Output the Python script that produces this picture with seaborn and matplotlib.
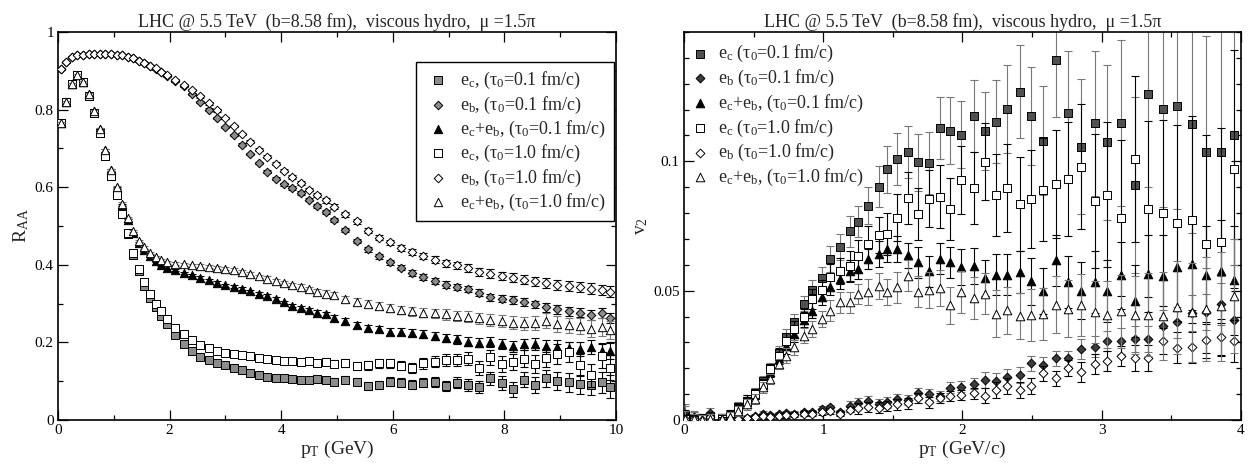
import matplotlib
matplotlib.use("Agg")
import matplotlib.pyplot as plt
from matplotlib.ticker import MultipleLocator, FixedLocator, FuncFormatter
import seaborn as sns
import pandas as pd

# ---------------- left panel: R_AA vs pT ----------------
pt_L = [0.05,0.15,0.25,0.35,0.45,0.55,0.65,0.75,0.85,0.95,1.05,1.15,1.25,1.35,1.45,1.55,1.65,1.75,1.85,1.95,
        2.1,2.25,2.4,2.55,2.7,2.85,3.0,3.15,3.3,3.45,3.6,3.75,3.9,4.05,4.2,4.35,4.5,4.65,4.8,4.95,
        5.15,5.35,5.55,5.75,5.95,6.15,6.35,6.55,6.75,6.95,7.15,7.35,7.55,7.75,7.95,8.15,8.35,8.55,8.75,8.95,
        9.15,9.35,9.55,9.75,9.9]

raa_ec_01 = [0.765,0.82,0.865,0.89,0.87,0.835,0.79,0.74,0.68,0.63,0.58,0.53,0.48,0.425,0.383,0.345,0.315,0.29,0.268,0.247,
             0.218,0.195,0.177,0.163,0.154,0.147,0.141,0.134,0.128,0.122,0.117,0.112,0.108,0.107,0.105,0.104,0.104,0.105,0.103,0.099,
             0.104,0.098,0.088,0.091,0.099,0.096,0.091,0.096,0.099,0.088,0.096,0.091,0.085,0.107,0.096,0.079,0.104,0.09,0.108,0.1,
             0.097,0.092,0.091,0.097,0.086]
raa_eb_01 = [0.905,0.922,0.935,0.94,0.942,0.944,0.943,0.944,0.943,0.944,0.942,0.94,0.936,0.932,0.926,0.92,0.912,0.905,0.896,0.887,
             0.873,0.86,0.84,0.82,0.8,0.778,0.756,0.734,0.71,0.686,0.662,0.64,0.622,0.607,0.598,0.585,0.568,0.552,0.535,0.515,
             0.49,0.462,0.44,0.422,0.406,0.393,0.379,0.369,0.358,0.349,0.343,0.338,0.328,0.317,0.312,0.309,0.304,0.298,0.29,0.285,
             0.28,0.277,0.271,0.275,0.262]
raa_ecb_01 = [0.765,0.82,0.865,0.89,0.872,0.84,0.797,0.75,0.695,0.645,0.598,0.555,0.515,0.482,0.455,0.437,0.422,0.41,0.4,0.393,
              0.386,0.379,0.373,0.367,0.36,0.353,0.347,0.343,0.338,0.332,0.326,0.319,0.311,0.303,0.295,0.289,0.283,0.277,0.272,0.263,
              0.255,0.245,0.238,0.234,0.228,0.228,0.225,0.221,0.217,0.211,0.208,0.202,0.199,0.2,0.196,0.19,0.195,0.196,0.19,0.188,
              0.185,0.182,0.188,0.178,0.177]
raa_ec_10 = [0.765,0.82,0.865,0.89,0.87,0.835,0.79,0.74,0.68,0.63,0.58,0.53,0.482,0.43,0.39,0.355,0.325,0.30,0.28,0.26,
             0.238,0.222,0.207,0.194,0.185,0.178,0.173,0.17,0.167,0.164,0.161,0.158,0.155,0.153,0.151,0.15,0.152,0.147,0.15,0.145,
             0.146,0.14,0.141,0.146,0.146,0.14,0.133,0.146,0.15,0.155,0.154,0.158,0.133,0.162,0.145,0.15,0.158,0.145,0.16,0.17,
             0.175,0.142,0.115,0.165,0.135]
raa_eb_10 = [0.905,0.922,0.935,0.94,0.942,0.944,0.943,0.944,0.943,0.944,0.942,0.94,0.936,0.932,0.926,0.92,0.913,0.906,0.898,0.889,
             0.876,0.864,0.85,0.834,0.816,0.798,0.778,0.758,0.738,0.717,0.697,0.678,0.66,0.643,0.627,0.61,0.594,0.58,0.566,0.55,
             0.53,0.512,0.488,0.47,0.458,0.443,0.433,0.423,0.413,0.404,0.399,0.391,0.381,0.377,0.371,0.367,0.362,0.357,0.353,0.348,
             0.345,0.342,0.338,0.335,0.331]
raa_ecb_10 = [0.765,0.82,0.865,0.89,0.872,0.84,0.797,0.75,0.695,0.645,0.6,0.558,0.52,0.488,0.462,0.445,0.43,0.42,0.412,0.406,
              0.403,0.401,0.399,0.397,0.395,0.393,0.39,0.386,0.381,0.376,0.37,0.364,0.358,0.352,0.348,0.344,0.337,0.331,0.326,0.322,
              0.311,0.305,0.3,0.295,0.288,0.284,0.28,0.277,0.275,0.272,0.269,0.266,0.262,0.258,0.255,0.251,0.249,0.251,0.256,0.248,
              0.244,0.243,0.235,0.24,0.232]

err_ec_01 = [0.003,0.003,0.003,0.003,0.003,0.003,0.003,0.003,0.003,0.003,0.003,0.003,0.003,0.003,0.003,0.003,0.003,0.003,0.003,0.003,
             0.003,0.003,0.004,0.004,0.004,0.004,0.004,0.005,0.005,0.005,0.005,0.006,0.006,0.006,0.007,0.007,0.007,0.008,0.008,0.008,
             0.009,0.009,0.01,0.01,0.011,0.011,0.012,0.012,0.013,0.013,0.014,0.015,0.016,0.017,0.018,0.019,0.02,0.021,0.022,0.023,
             0.024,0.025,0.027,0.028,0.03]
err_eb_01 = [0.002,0.002,0.002,0.002,0.002,0.002,0.002,0.002,0.002,0.002,0.002,0.002,0.002,0.002,0.002,0.002,0.002,0.002,0.002,0.002,
             0.002,0.002,0.002,0.003,0.003,0.003,0.003,0.003,0.003,0.003,0.003,0.004,0.004,0.004,0.004,0.004,0.004,0.005,0.005,0.005,
             0.005,0.005,0.006,0.006,0.006,0.006,0.007,0.007,0.007,0.008,0.008,0.008,0.009,0.009,0.009,0.01,0.01,0.01,0.011,0.011,
             0.011,0.012,0.012,0.013,0.013]
err_ecb_01 = [0.003,0.003,0.003,0.003,0.003,0.003,0.003,0.003,0.003,0.003,0.003,0.003,0.003,0.003,0.003,0.003,0.003,0.003,0.003,0.003,
              0.003,0.003,0.003,0.003,0.004,0.004,0.004,0.004,0.004,0.004,0.005,0.005,0.005,0.005,0.005,0.006,0.006,0.006,0.006,0.007,
              0.007,0.007,0.008,0.008,0.008,0.009,0.009,0.01,0.01,0.011,0.011,0.012,0.012,0.013,0.013,0.014,0.015,0.015,0.016,0.017,
              0.017,0.018,0.019,0.02,0.021]
err_ec_10 = [0.003,0.003,0.003,0.003,0.003,0.003,0.003,0.003,0.003,0.003,0.003,0.003,0.003,0.003,0.003,0.003,0.003,0.003,0.003,0.003,
             0.003,0.004,0.004,0.004,0.004,0.005,0.005,0.005,0.005,0.006,0.006,0.006,0.007,0.007,0.007,0.008,0.008,0.008,0.009,0.009,
             0.01,0.01,0.011,0.011,0.012,0.012,0.013,0.014,0.014,0.015,0.016,0.017,0.018,0.019,0.02,0.021,0.022,0.023,0.024,0.025,
             0.026,0.028,0.03,0.031,0.033]
err_eb_10 = [0.002,0.002,0.002,0.002,0.002,0.002,0.002,0.002,0.002,0.002,0.002,0.002,0.002,0.002,0.002,0.002,0.002,0.002,0.002,0.002,
             0.002,0.002,0.003,0.003,0.003,0.003,0.003,0.003,0.003,0.004,0.004,0.004,0.004,0.004,0.005,0.005,0.005,0.005,0.006,0.006,
             0.006,0.006,0.007,0.007,0.007,0.008,0.008,0.008,0.009,0.009,0.009,0.01,0.01,0.011,0.011,0.011,0.012,0.012,0.012,0.013,
             0.013,0.013,0.014,0.014,0.015]
err_ecb_10 = [0.003,0.003,0.003,0.003,0.003,0.003,0.003,0.003,0.003,0.003,0.003,0.003,0.003,0.003,0.003,0.003,0.003,0.003,0.003,0.003,
              0.003,0.003,0.004,0.004,0.004,0.004,0.004,0.005,0.005,0.005,0.005,0.006,0.006,0.006,0.006,0.007,0.007,0.007,0.008,0.008,
              0.008,0.009,0.009,0.01,0.01,0.011,0.011,0.012,0.012,0.013,0.013,0.014,0.015,0.015,0.016,0.017,0.017,0.018,0.019,0.02,
              0.02,0.021,0.022,0.023,0.024]

# ---------------- right panel: v2 vs pT ----------------
pt_R = [0.01,0.07,0.13,0.19,0.27,0.33,0.39,0.45,0.51,0.57,0.62,0.68,0.73,0.79,0.86,0.92,0.99,1.05,1.12,1.19,
        1.25,1.32,1.40,1.46,1.53,1.61,1.68,1.76,1.84,1.91,1.99,2.08,2.16,2.24,2.32,2.41,2.49,2.58,2.67,2.76,
        2.85,2.95,3.04,3.14,3.24,3.33,3.44,3.54,3.65,3.75,3.86,3.95]

v2_ec_01 = [0.002,0.0005,0.0003,0.0002,0.0004,0.0017,0.0049,0.0075,0.0103,0.0152,0.0201,0.0258,0.032,0.038,0.045,0.0503,0.055,0.0622,0.067,0.073,
            0.0767,0.0829,0.0902,0.0969,0.1008,0.1037,0.0996,0.0994,0.1129,0.1118,0.1103,0.1176,0.1118,0.1153,0.1204,0.1269,0.1174,0.108,0.1391,0.1185,
            0.1057,0.1147,0.1073,0.1149,0.0909,0.126,0.1204,0.1214,0.1143,0.1036,0.1036,0.1101]
v2_eb_01 = [0.0023,0.001,0.0005,0.0026,0.0,0.0003,0.0006,0.0008,0.0015,0.0023,0.0018,0.0022,0.0026,0.0024,0.003,0.003,0.0043,0.0049,0.003,0.0055,
            0.0064,0.0072,0.0062,0.0068,0.0081,0.0077,0.0103,0.0099,0.0094,0.0125,0.0129,0.0141,0.0154,0.015,0.0167,0.0174,0.0219,0.0212,0.0238,0.0238,
            0.0274,0.0283,0.0306,0.0306,0.0312,0.0312,0.0365,0.0378,0.0415,0.0419,0.0448,0.0387]
v2_ecb_01 = [0.001,0.0005,0.0,0.0003,0.0004,0.0013,0.0045,0.0078,0.01,0.0139,0.0185,0.0235,0.0285,0.0332,0.0388,0.0423,0.0474,0.0515,0.0545,0.0577,
             0.0585,0.0622,0.0641,0.066,0.066,0.0636,0.061,0.0575,0.0623,0.061,0.0591,0.0595,0.055,0.0562,0.0562,0.0572,0.0536,0.0499,0.0617,0.0533,
             0.0499,0.0533,0.0497,0.0559,0.0459,0.0566,0.0555,0.059,0.0605,0.056,0.0575,0.054]
v2_ec_10 = [0.0003,0.0,0.0002,0.0,0.0004,0.0017,0.0042,0.0068,0.01,0.0139,0.0197,0.0249,0.0305,0.0352,0.04,0.0468,0.0503,0.0552,0.0575,0.0595,
            0.0634,0.068,0.0715,0.0719,0.0782,0.0857,0.0797,0.0855,0.0864,0.0814,0.0928,0.0897,0.0999,0.087,0.0897,0.0835,0.0855,0.0891,0.0913,0.0932,
            0.098,0.0846,0.0871,0.0781,0.1009,0.0816,0.08,0.0762,0.0775,0.068,0.0687,0.097]
v2_eb_10 = [0.0005,0.0003,0.0,0.001,0.0,0.0002,0.0004,0.0006,0.001,0.0015,0.0013,0.0016,0.0019,0.0021,0.0025,0.0024,0.003,0.0035,0.0025,0.004,
            0.0045,0.005,0.0048,0.0055,0.006,0.0064,0.0086,0.0068,0.0084,0.0094,0.0096,0.0103,0.0094,0.0116,0.0132,0.0116,0.0132,0.018,0.0161,0.0202,
            0.0186,0.0216,0.0228,0.0248,0.024,0.024,0.0305,0.028,0.0282,0.031,0.032,0.0305]
v2_ecb_10 = [0.0005,0.0003,0.0,0.0002,0.0003,0.0012,0.0035,0.006,0.0081,0.0126,0.0159,0.0216,0.0249,0.0281,0.0326,0.0352,0.039,0.0423,0.0455,0.0455,
             0.0487,0.0494,0.0519,0.0494,0.0513,0.0558,0.0495,0.0504,0.051,0.0443,0.0495,0.0472,0.0488,0.0411,0.0424,0.0402,0.0405,0.0411,0.0446,0.0431,
             0.0443,0.0418,0.0407,0.042,0.0407,0.0407,0.0403,0.0435,0.0416,0.0429,0.044,0.048]

e2_ec_01 = [0.004,0.003,0.002,0.002,0.002,0.002,0.002,0.002,0.002,0.002,0.002,0.003,0.003,0.003,0.003,0.004,0.004,0.005,0.005,0.006,
            0.006,0.007,0.008,0.009,0.01,0.01,0.011,0.012,0.012,0.013,0.013,0.014,0.015,0.016,0.017,0.018,0.019,0.021,0.022,0.024,
            0.026,0.028,0.03,0.032,0.034,0.036,0.038,0.04,0.042,0.045,0.048,0.05]
e2_eb_01 = [0.003,0.002,0.002,0.002,0.001,0.001,0.001,0.001,0.001,0.001,0.001,0.001,0.001,0.001,0.001,0.001,0.001,0.001,0.001,0.002,
            0.002,0.002,0.002,0.002,0.002,0.002,0.002,0.002,0.002,0.002,0.002,0.002,0.003,0.003,0.003,0.003,0.003,0.003,0.003,0.003,
            0.004,0.004,0.004,0.005,0.005,0.005,0.006,0.006,0.007,0.007,0.008,0.008]
e2_ecb_01 = [0.003,0.002,0.002,0.002,0.002,0.002,0.002,0.002,0.002,0.002,0.002,0.002,0.003,0.003,0.003,0.003,0.003,0.003,0.004,0.004,
             0.004,0.004,0.005,0.005,0.005,0.005,0.006,0.006,0.006,0.006,0.007,0.007,0.007,0.008,0.008,0.008,0.009,0.009,0.01,0.01,
             0.011,0.012,0.012,0.013,0.014,0.015,0.016,0.017,0.018,0.019,0.02,0.021]
e2_ec_10 = [0.003,0.002,0.002,0.002,0.002,0.002,0.002,0.002,0.002,0.002,0.002,0.003,0.003,0.003,0.003,0.004,0.004,0.005,0.005,0.006,
            0.006,0.007,0.007,0.008,0.009,0.01,0.01,0.011,0.012,0.012,0.013,0.014,0.015,0.016,0.017,0.018,0.019,0.02,0.021,0.022,
            0.024,0.026,0.028,0.03,0.032,0.034,0.036,0.038,0.04,0.042,0.044,0.046]
e2_eb_10 = [0.002,0.002,0.002,0.002,0.001,0.001,0.001,0.001,0.001,0.001,0.001,0.001,0.001,0.001,0.001,0.001,0.001,0.001,0.001,0.001,
            0.002,0.002,0.002,0.002,0.002,0.002,0.002,0.002,0.002,0.002,0.002,0.002,0.003,0.003,0.003,0.003,0.003,0.003,0.003,0.003,
            0.004,0.004,0.004,0.004,0.005,0.005,0.005,0.006,0.006,0.007,0.007,0.008]
e2_ecb_10 = [0.003,0.002,0.002,0.002,0.002,0.002,0.002,0.002,0.002,0.002,0.002,0.002,0.003,0.003,0.003,0.003,0.003,0.004,0.004,0.004,
             0.004,0.005,0.005,0.005,0.006,0.006,0.006,0.007,0.007,0.007,0.008,0.008,0.008,0.009,0.009,0.009,0.01,0.01,0.011,0.011,
             0.012,0.012,0.013,0.014,0.015,0.016,0.017,0.018,0.019,0.02,0.021,0.022]

labels_L = ["e$_\\mathregular{c}$, (τ$_\\mathregular{0}$=0.1 fm/c)",
            "e$_\\mathregular{b}$, (τ$_\\mathregular{0}$=0.1 fm/c)",
            "e$_\\mathregular{c}$+e$_\\mathregular{b}$, (τ$_\\mathregular{0}$=0.1 fm/c)",
            "e$_\\mathregular{c}$, (τ$_\\mathregular{0}$=1.0 fm/c)",
            "e$_\\mathregular{b}$, (τ$_\\mathregular{0}$=1.0 fm/c)",
            "e$_\\mathregular{c}$+e$_\\mathregular{b}$, (τ$_\\mathregular{0}$=1.0 fm/c)"]
labels_R = ["e$_\\mathregular{c}$ (τ$_\\mathregular{0}$=0.1 fm/c)",
            "e$_\\mathregular{b}$ (τ$_\\mathregular{0}$=0.1 fm/c)",
            "e$_\\mathregular{c}$+e$_\\mathregular{b}$, (τ$_\\mathregular{0}$=0.1 fm/c)",
            "e$_\\mathregular{c}$ (τ$_\\mathregular{0}$=1.0 fm/c)",
            "e$_\\mathregular{b}$ (τ$_\\mathregular{0}$=1.0 fm/c)",
            "e$_\\mathregular{c}$+e$_\\mathregular{b}$, (τ$_\\mathregular{0}$=1.0 fm/c)"]
title_text = "LHC @ 5.5 TeV  (b=8.58 fm),  viscous hydro,  μ =1.5π"
yticks_R = [0, 0.05, 0.1]

# ---------------- style ----------------
sns.set_theme(style="ticks")
plt.rcParams["font.family"] = ["Liberation Serif", "DejaVu Serif"]
plt.rcParams["mathtext.fontset"] = "custom"
plt.rcParams["mathtext.rm"] = "Liberation Serif"
plt.rcParams["mathtext.it"] = "Liberation Serif:italic"
plt.rcParams["mathtext.bf"] = "Liberation Serif:bold"
plt.rcParams["axes.edgecolor"] = "black"
plt.rcParams["axes.linewidth"] = 1.2

fig = plt.figure(figsize=(12.52, 4.66), dpi=100)
ax1 = fig.add_axes([0.0463, 0.0987, 0.4457, 0.8326])
ax2 = fig.add_axes([0.5463, 0.0987, 0.4449, 0.8326])

# marker, facecolor, size, errorbar colour
styles_L = [("s", "#8c8c8c", 30, "black"),
            ("D", "#8c8c8c", 19, "black"),
            ("^", "black", 36, "black"),
            ("s", "white", 30, "black"),
            ("D", "white", 19, "black"),
            ("^", "white", 36, "#777777")]
styles_R = [("s", "#505050", 30, "#777777"),
            ("D", "#3c3c3c", 20, "#777777"),
            ("^", "black", 38, "black"),
            ("s", "white", 30, "black"),
            ("D", "white", 20, "black"),
            ("^", "white", 38, "#777777")]

series_L = [(raa_ec_01, err_ec_01), (raa_eb_01, err_eb_01), (raa_ecb_01, err_ecb_01),
            (raa_ec_10, err_ec_10), (raa_eb_10, err_eb_10), (raa_ecb_10, err_ecb_10)]
series_R = [(v2_ec_01, e2_ec_01), (v2_eb_01, e2_eb_01), (v2_ecb_01, e2_ecb_01),
            (v2_ec_10, e2_ec_10), (v2_eb_10, e2_eb_10), (v2_ecb_10, e2_ecb_10)]


def draw(ax, pt, series, styles, labels):
    for i, ((y, e), (mk, fc, sz, ec), lab) in enumerate(zip(series, styles, labels)):
        df = pd.DataFrame({"pt": pt, "y": y, "err": e})
        ax.errorbar(df["pt"], df["y"], yerr=df["err"], fmt="none", ecolor=ec,
                    elinewidth=0.8, capsize=3, capthick=0.8, zorder=2 + 2 * i)
        sns.scatterplot(data=df, x="pt", y="y", ax=ax, marker=mk, s=sz, color=fc,
                        edgecolor="black", linewidth=0.7, label=lab, zorder=3 + 2 * i)


draw(ax1, pt_L, series_L, styles_L, labels_L)
draw(ax2, pt_R, series_R, styles_R, labels_R)

fmt = FuncFormatter(lambda v, p: f"{v:g}")
for ax in (ax1, ax2):
    ax.set_title(title_text, fontsize=13, pad=4)
    ax.tick_params(which="both", direction="in", top=True, right=True, colors="black",
                   width=0.9, labelsize=11, pad=3)
    ax.tick_params(which="major", length=7.5)
    ax.tick_params(which="minor", length=3.8)
    ax.xaxis.set_major_formatter(fmt)
    ax.yaxis.set_major_formatter(fmt)
    for sp in ax.spines.values():
        sp.set_linewidth(1.2)
        sp.set_color("black")

ax1.set_xlim(0, 10)
ax1.set_ylim(0, 1)
ax1.xaxis.set_major_locator(MultipleLocator(2))
ax1.xaxis.set_minor_locator(MultipleLocator(1))
ax1.yaxis.set_major_locator(MultipleLocator(0.2))
ax1.yaxis.set_minor_locator(MultipleLocator(0.1))
ax1.set_xlabel("p$_\\mathregular{T}$ (GeV)", fontsize=14, labelpad=1)
ax1.set_ylabel("R$_\\mathregular{AA}$", fontsize=14, labelpad=3)

ax2.set_xlim(0, 4)
ax2.set_ylim(0, 0.15)
ax2.xaxis.set_major_locator(MultipleLocator(1))
ax2.xaxis.set_minor_locator(MultipleLocator(0.5))
ax2.yaxis.set_major_locator(FixedLocator(yticks_R))
ax2.yaxis.set_minor_locator(MultipleLocator(0.01))
ax2.set_xlabel("p$_\\mathregular{T}$ (GeV/c)", fontsize=14, labelpad=1)
ax2.set_ylabel("v$_\\mathregular{2}$", fontsize=14, labelpad=2)

leg1 = ax1.legend(loc="upper right", bbox_to_anchor=(0.996, 0.923), frameon=True, fancybox=False,
                  edgecolor="black", framealpha=1, fontsize=13, handletextpad=0.4, labelspacing=0.18,
                  borderpad=0.45, borderaxespad=0, handlelength=1.6, scatterpoints=1)
leg1.get_frame().set_linewidth(1.0)
leg2 = ax2.legend(loc="upper left", bbox_to_anchor=(0.0, 0.985), frameon=False, fontsize=13,
                  handletextpad=0.4, labelspacing=0.2, borderpad=0.3, handlelength=1.2,
                  scatterpoints=1, borderaxespad=0)

fig.savefig("out.png", dpi=100)
